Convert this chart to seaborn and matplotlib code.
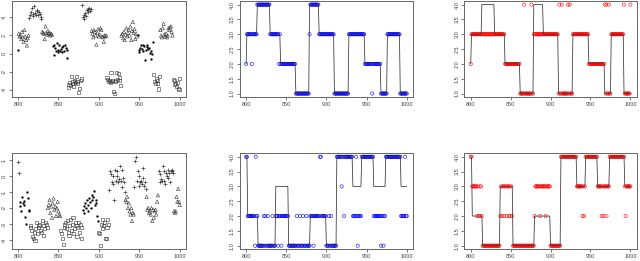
import numpy as np
import pandas as pd
import matplotlib
matplotlib.use('Agg')
import matplotlib.pyplot as plt
import seaborn as sns

# time axis
t = np.arange(800, 1001)

# --- riga sopra ---
# stati veri (stato, lunghezza)
true_top_runs = [(2, 1), (3, 13), (4, 16), (3, 13), (2, 19), (1, 17), (4, 12),
                 (3, 19), (1, 18), (3, 20), (2, 20), (1, 8), (3, 16), (1, 9)]
# osservazioni
obs_top = [0.4,
           2.2, 1.9, 2.0, 1.6, 2.4, 1.8, 1.3, 2.6, 1.9, 1.5, 0.9, 1.7, 2.0,
           3.9, 4.2, 4.6, 5.0, 4.4, 4.1, 5.3, 4.5, 4.3, 4.8, 4.7, 4.2, 4.6, 4.4, 3.8, 4.0,
           2.4, 2.3, 2.2, 1.6, 3.0, 2.3, 2.1, 2.5, 2.2, 2.3, 2.0, 2.2, 2.1,
           0.8, -0.1, 1.0, 0.6, 0.3, 1.2, 0.4, 0.2, 0.9, 0.3, 0.5, 0.7, 0.2, 0.8, 0.3, 1.0, 0.6, 0.4, -0.5,
           -3.7, -3.4, -3.2, -3.5, -2.5, -3.3, -3.1, -3.6, -3.0, -3.2, -2.5, -3.1, -3.3, -4.3, -3.8, -3.0, -2.8,
           5.4, 4.0, 3.8, 4.3, 4.5, 4.1, 4.8, 4.9, 4.6, 5.0, 4.7, 4.9,
           2.5, 2.2, 1.8, 2.6, 2.4, 2.0, 1.0, 2.3, 2.7, 1.9, 2.1, 2.8, 2.6, 1.9, 1.8, 1.3, 2.0, 1.9, 2.0,
           -2.6, -2.9, -3.1, -3.0, -3.2, -2.1, -3.1, -3.0, -4.2, -4.4, -3.1, -3.0, -2.1, -2.9, -2.2, -2.6, -3.0, -3.5,
           2.0, 2.2, 1.7, 2.4, 1.5, 2.1, 2.8, 1.9, 2.3, 2.6, 2.0, 3.0, 1.5, 2.5, 3.5, 2.3, 2.7, 1.6, 2.2, 1.9,
           2.0, 0.4, 0.2, 0.6, 0.9, 0.5, 1.0, 0.3, 0.8, -0.7, 0.4, 0.7, 1.0, 0.5, 0.6, 0.1, 0.3, -0.6, 0.0, 1.3,
           -2.3, -3.1, -3.3, -2.8, -3.0, -3.3, -3.9, -2.5,
           2.6, 2.0, 1.8, 2.8, 3.3, 2.1, 1.9, 2.2, 1.8, 2.0, 2.8, 2.6, 2.9, 3.0, 2.4, 2.0,
           -2.9, -3.0, -3.4, -3.3, -3.6, -3.2, -3.8, -4.0, -2.7]
# stime (blu e rosso): dove differiscono dallo stato vero
blue_top_diff = {807: 2, 841: 2, 879: 3, 957: 1}
red_top_runs = [(2, 1), (3, 42), (2, 19), (1, 17), (3, 31), (1, 18), (3, 20),
                (2, 20), (1, 8), (3, 16), (1, 9)]
red_top_diff = {867: 4, 876: 4, 911: 4, 914: 4, 922: 4, 924: 4,
                968: 4, 970: 4, 973: 4, 992: 4, 1000: 4}

# --- riga sotto ---
true_bot_runs = [(4, 2), (2, 13), (1, 22), (3, 16), (1, 27), (2, 20), (1, 13),
                 (4, 20), (3, 11), (4, 15), (3, 15), (4, 19), (3, 8)]
obs_bot = [0.85, 0.2,
           -1.9, -1.65, -2.2, -1.28, -1.69, -1.79, -1.58, -2.55, -2.98, -1.03, -1.38, -2.1, -2.2,
           -3.2, -3.1, -3.4, -3.8, -3.9, -3.5, -4.0, -3.3, -2.9, -3.6, -3.2, -3.1, -3.0, -3.4, -3.5, -2.8,
           -3.7, -3.1, -3.3, -2.9, -3.0, -3.2,
           -2.0, -1.8, -1.5, -2.3, -1.9, -2.6, -1.7, -1.4, -2.1, -1.9, -2.5, -2.0, -1.6, -2.2, -2.4, -2.5,
           -3.4, -3.6, -3.9, -4.3, -3.2, -3.0, -2.9, -3.3, -2.8, -3.5, -3.7, -3.1, -2.7, -3.4, -3.0, -2.6,
           -3.6, -3.3, -2.9, -3.1, -3.8, -3.2, -2.9, -3.5, -3.0, -3.9, -3.2,
           -2.1, -1.9, -2.3, -1.7, -2.0, -1.5, -2.2, -1.8, -1.4, -1.6, -2.0, -1.2, -1.5, -1.3, -0.95,
           -1.8, -1.5, -1.7, -2.5, -2.8,
           -3.5, -3.6, -4.35, -3.0, -3.3, -2.7, -3.1, -2.9, -3.9, -3.9, -3.2, -2.7, -3.0,
           -0.9, 0.3, 0.1, -0.4, 0.0, -0.5, -1.5, 0.4, -0.3, 0.0, 0.3, -0.4, -0.2, 0.6, -0.3, 0.4,
           -0.7, -0.1, -0.4, -1.0,
           -1.5, -1.6, -1.3, -2.0, -1.7, -2.2, -2.4, -2.0, -2.8, -2.3, -2.4,
           -0.7, 0.95, 1.2, -0.3, 0.3, -0.6, 0.0, -0.4, -0.3, -0.5, -0.1, 0.5, -0.6, -0.4, -0.8,
           -1.3, -2.1, -2.0, -2.3, -2.2, -2.4, -2.0, -2.8, -2.1, -2.6, -2.2, -2.1, -2.4, -1.6, -1.2,
           0.3, -0.4, 0.1, -0.2, -0.3, 0.6, -0.3, 0.3, -0.5, 0.2, 0.0, -0.1, 0.4, 0.2, -0.4, 0.3,
           0.4, 0.3, 0.2,
           -2.2, -2.3, -2.2, -1.3, -1.6, -0.8, -1.6, -1.8]
blue_bot_runs = [(4, 2), (2, 13), (1, 22), (2, 16), (1, 27), (2, 20), (1, 13),
                 (4, 20), (2, 11), (4, 15), (2, 15), (4, 19), (2, 8)]
blue_bot_diff = {811: 1, 812: 4, 822: 2, 824: 2, 827: 2, 833: 2, 840: 1, 844: 1,
                 863: 2, 867: 2, 871: 2, 875: 2, 884: 1, 892: 4, 893: 4,
                 903: 2, 906: 2, 919: 3, 922: 2, 937: 4, 939: 1, 968: 1, 971: 1, 998: 4}
red_bot_runs = [(4, 2), (3, 13), (1, 22), (3, 16), (1, 27), (3, 20), (1, 13),
                (4, 20), (3, 11), (4, 15), (3, 15), (4, 19), (3, 8)]
red_bot_diff = {808: 2, 810: 2, 812: 2, 814: 2,
                837: 2, 839: 2, 842: 2, 845: 2, 848: 2, 850: 2, 852: 2,
                880: 2, 887: 2, 894: 2, 940: 2, 942: 2, 964: 2, 966: 2, 970: 2, 994: 2}


def expand(runs, diff=None):
    s = np.repeat([r[0] for r in runs], [r[1] for r in runs]).astype(float)
    if diff:
        for k, v in diff.items():
            s[k - 800] = v
    return s


true_top = expand(true_top_runs)
blue_top = expand(true_top_runs, blue_top_diff)
red_top = expand(red_top_runs, red_top_diff)
true_bot = expand(true_bot_runs)
blue_bot = expand(blue_bot_runs, blue_bot_diff)
red_bot = expand(red_bot_runs, red_bot_diff)

sns.set_style('white')
plt.rcParams['font.family'] = ['Liberation Sans', 'DejaVu Sans']
plt.rcParams['axes.unicode_minus'] = False

fig = plt.figure(figsize=(6.4, 2.61), dpi=100)

row_b = [0.628, 0.045]
col_l = [(0.018, 0.273), (0.3745, 0.271), (0.7255, 0.2695)]
H = 0.368

# simboli per stato (stile R: 0 quadrato, 20 punto, 2 triangolo, 3 croce)
ink = '#333333'
sym = {1: dict(marker='s', facecolor='none', edgecolor=ink, s=5, linewidth=0.4),
       2: dict(marker='o', color='k', edgecolor='k', s=2.0, linewidth=0.2),
       3: dict(marker='^', facecolor='none', edgecolor=ink, s=6, linewidth=0.4),
       4: dict(marker='+', color=ink, s=8, linewidth=0.45)}


def style_ax(ax, yticks, yfmt):
    ax.set_xlim(792, 1008)
    ax.set_xticks([800, 850, 900, 950, 1000])
    ax.set_yticks(yticks)
    ax.set_yticklabels([yfmt.format(v) for v in yticks], rotation=90, va='center')
    ax.tick_params(axis='both', labelsize=4.0, length=2, width=0.5, pad=1.5,
                   colors='#444444', direction='out', bottom=True, left=True)
    for sp in ax.spines.values():
        sp.set_color('#666666')
        sp.set_linewidth(0.7)
    ax.set_xlabel('')
    ax.set_ylabel('')


def obs_panel(ax, obs, states, yticks):
    df = pd.DataFrame({'t': t, 'y': obs, 'state': states})
    for st in [1, 2, 3, 4]:
        d = df[df['state'] == st]
        sns.scatterplot(data=d, x='t', y='y', ax=ax, legend=False, **sym[st])
    lo, hi = min(obs), max(obs)
    pad = 0.04 * (hi - lo)
    ax.set_ylim(lo - pad, hi + pad)
    style_ax(ax, yticks, '{:d}')


def state_panel(ax, true_s, est, col):
    sns.lineplot(x=t, y=true_s, ax=ax, color='#333333', linewidth=0.55, estimator=None)
    sns.scatterplot(x=t, y=est, ax=ax, marker='o', color=col, facecolor='none',
                    edgecolor=col, s=5.5, linewidth=0.4, legend=False)
    ax.set_ylim(0.88, 4.12)
    style_ax(ax, [1.0, 1.5, 2.0, 2.5, 3.0, 3.5, 4.0], '{:.1f}')


for r, (obs, tr, bl, rd, yt) in enumerate([
        (obs_top, true_top, blue_top, red_top, [-4, -2, 0, 2, 4]),
        (obs_bot, true_bot, blue_bot, red_bot, [-4, -3, -2, -1, 0, 1])]):
    axes = [fig.add_axes([l, row_b[r], w, H]) for l, w in col_l]
    obs_panel(axes[0], obs, tr, yt)
    state_panel(axes[1], tr, bl, 'blue')
    state_panel(axes[2], tr, rd, 'red')

fig.savefig('out.png', dpi=100)
